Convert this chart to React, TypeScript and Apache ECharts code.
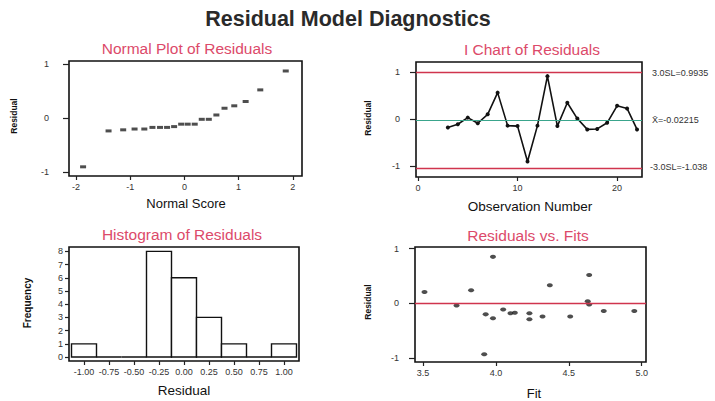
import React, { useEffect, useRef } from 'react';
import * as echarts from 'echarts';

// Normal probability plot: normal scores vs ordered residuals
const normalScores = [-1.87, -1.40, -1.13, -0.92, -0.74, -0.59, -0.45, -0.32, -0.19, -0.06, 0.06, 0.19, 0.32, 0.45, 0.59, 0.74, 0.92, 1.13, 1.40, 1.87];
const orderedResiduals = [-0.90, -0.235, -0.215, -0.20, -0.20, -0.17, -0.17, -0.17, -0.155, -0.11, -0.11, -0.11, -0.02, -0.02, 0.06, 0.185, 0.23, 0.31, 0.525, 0.875];

// Individuals chart
const observationNumbers = [3, 4, 5, 6, 7, 8, 9, 10, 11, 12, 13, 14, 15, 16, 17, 18, 19, 20, 21, 22];
const observationResiduals = [-0.18, -0.11, 0.03, -0.09, 0.10, 0.56, -0.14, -0.15, -0.90, -0.14, 0.91, -0.15, 0.345, 0.01, -0.22, -0.21, -0.08, 0.28, 0.225, -0.22];
const upperLimit = 0.9935;
const centerValue = -0.02215;
const lowerLimit = -1.038;
const limitLabels = ['3.0SL=0.9935', 'X\u0304=-0.02215', '-3.0SL=-1.038'];

// Histogram
const binCenters = [-1.0, -0.75, -0.5, -0.25, 0.0, 0.25, 0.5, 0.75, 1.0];
const binCounts = [1, 0, 0, 8, 6, 3, 1, 0, 1];
const binWidth = 0.25;

// Residuals vs fitted values
const fittedValues = [3.51, 3.73, 3.83, 3.92, 3.93, 3.98, 3.98, 4.05, 4.10, 4.13, 4.23, 4.23, 4.32, 4.37, 4.51, 4.63, 4.64, 4.64, 4.74, 4.95];
const fitResiduals = [0.21, -0.04, 0.24, -0.93, -0.20, 0.85, -0.27, -0.11, -0.18, -0.17, -0.18, -0.29, -0.24, 0.33, -0.24, 0.04, 0.52, -0.02, -0.14, -0.14];

const titleColor = '#dc4a6a';
const font = 'Liberation Sans, Arial, sans-serif';

function valueAxis(gridIndex: number, min: number, max: number, ticks: number[], fmt: (v: number) => string, margin: number, tickLen: number) {
  return {
    type: 'value',
    gridIndex,
    min,
    max,
    axisLine: { show: false, onZero: false },
    splitLine: { show: false },
    axisTick: { show: true, customValues: ticks, length: tickLen, lineStyle: { color: '#222', width: 1.2 } },
    axisLabel: { show: true, customValues: ticks, formatter: (v: number) => fmt(v), fontSize: 9, color: '#333', margin, fontFamily: font, hideOverlap: false },
  };
}

export default function App() {
  const ref = useRef<HTMLDivElement>(null);

  useEffect(() => {
    if (!ref.current) return;
    const chart = echarts.init(ref.current, null, { renderer: 'svg' });

    const gridStyle = { show: true, borderColor: '#111', borderWidth: 1.6, backgroundColor: 'transparent', containLabel: false };

    const text = (x: number, y: number, t: string, size: number, color = '#111', style: any = {}) => ({
      type: 'text',
      x,
      y,
      style: { text: t, fontSize: size, fill: color, fontFamily: font, align: 'center', verticalAlign: 'middle', ...style },
    });

    const rotated = (x: number, y: number, t: string, size = 8.5) => ({
      type: 'text',
      x,
      y,
      rotation: Math.PI / 2,
      style: { text: t, fontSize: size, fill: '#111', fontFamily: font, fontWeight: 'bold', align: 'center', verticalAlign: 'middle' },
    });

    const option: any = {
      animation: false,
      backgroundColor: '#fff',
      grid: [
        { left: 69, top: 61, width: 233, height: 115, ...gridStyle },
        { left: 416, top: 62, width: 226, height: 115, ...gridStyle },
        { left: 69, top: 247, width: 230, height: 114, ...gridStyle },
        { left: 415, top: 247, width: 231, height: 115, ...gridStyle },
      ],
      xAxis: [
        valueAxis(0, -2.13, 2.17, [-2, -1, 0, 1, 2], (v) => String(v), 6, 4),
        valueAxis(1, -0.2, 22.5, [0, 10, 20], (v) => String(v), 6, 4),
        valueAxis(2, -1.15, 1.15, binCenters, (v) => v.toFixed(2), 6, 4),
        valueAxis(3, 3.445, 5.03, [3.5, 4.0, 4.5, 5.0], (v) => v.toFixed(1), 6, 4),
      ],
      yAxis: [
        valueAxis(0, -1.07, 1.06, [-1, 0, 1], (v) => String(v), 20, 6),
        valueAxis(1, -1.23, 1.21, [-1, 0, 1], (v) => String(v), 16, 6),
        valueAxis(2, -0.3, 8.33, [0, 1, 2, 3, 4, 5, 6, 7, 8], (v) => String(v), 6, 4),
        valueAxis(3, -1.07, 1.03, [-1, 0, 1], (v) => String(v), 16, 6),
      ],
      series: [
        {
          type: 'scatter',
          xAxisIndex: 0,
          yAxisIndex: 0,
          symbol: 'rect',
          symbolSize: [6, 3],
          itemStyle: { color: '#222' },
          data: normalScores.map((s, i) => [s, orderedResiduals[i]]),
        },
        {
          type: 'line',
          xAxisIndex: 1,
          yAxisIndex: 1,
          symbol: 'circle',
          symbolSize: 4,
          itemStyle: { color: '#111' },
          lineStyle: { color: '#111', width: 1.6 },
          data: observationNumbers.map((n, i) => [n, observationResiduals[i]]),
          markLine: {
            silent: true,
            symbol: 'none',
            label: { show: false },
            data: [
              { yAxis: upperLimit, lineStyle: { color: '#d0344e', width: 1.4, type: 'solid' } },
              { yAxis: centerValue, lineStyle: { color: '#3aa58c', width: 1.2, type: 'solid' } },
              { yAxis: lowerLimit, lineStyle: { color: '#d0344e', width: 1.4, type: 'solid' } },
            ],
          },
          z: 3,
        },
        {
          type: 'custom',
          xAxisIndex: 2,
          yAxisIndex: 2,
          data: binCenters.map((c, i) => [c, binCounts[i]]),
          renderItem: (params: any, api: any) => {
            const c = api.value(0);
            const n = api.value(1);
            const p0 = api.coord([c - binWidth / 2, n]);
            const p1 = api.coord([c + binWidth / 2, 0]);
            return {
              type: 'rect',
              shape: { x: p0[0], y: p0[1], width: p1[0] - p0[0], height: p1[1] - p0[1] },
              style: { fill: '#fff', stroke: '#111', lineWidth: 1.4 },
            };
          },
        },
        {
          type: 'scatter',
          xAxisIndex: 3,
          yAxisIndex: 3,
          symbol: 'circle',
          symbolSize: [6, 4],
          itemStyle: { color: '#222' },
          data: fittedValues.map((f, i) => [f, fitResiduals[i]]),
          markLine: {
            silent: true,
            symbol: 'none',
            label: { show: false },
            data: [{ yAxis: 0, lineStyle: { color: '#d0344e', width: 1.3, type: 'solid' } }],
          },
        },
      ],
      graphic: [
        text(348, 19, 'Residual Model Diagnostics', 21.5, '#2a2a2a', { fontWeight: 'bold' }),
        text(187, 48, 'Normal Plot of Residuals', 15.5, titleColor),
        text(532, 49, 'I Chart of Residuals', 15.5, titleColor),
        text(182, 234, 'Histogram of Residuals', 15.5, titleColor),
        text(528, 235, 'Residuals vs. Fits', 15.5, titleColor),
        text(186, 203, 'Normal Score', 13),
        text(530, 206, 'Observation Number', 13.5),
        text(184, 390, 'Residual', 13.5),
        text(534, 393, 'Fit', 13),
        rotated(14, 116, 'Residual'),
        rotated(368, 118, 'Residual'),
        rotated(27, 303, 'Frequency', 10),
        rotated(368, 302, 'Residual'),
        text(652, 73, limitLabels[0], 9, '#333', { align: 'left' }),
        text(652, 120, limitLabels[1], 9, '#333', { align: 'left' }),
        text(650, 167, limitLabels[2], 9, '#333', { align: 'left' }),
      ],
    };

    chart.setOption(option);
    return () => chart.dispose();
  }, []);

  return <div ref={ref} style={{ position: 'fixed', left: 0, top: 0, width: 715, height: 401 }} />;
}
